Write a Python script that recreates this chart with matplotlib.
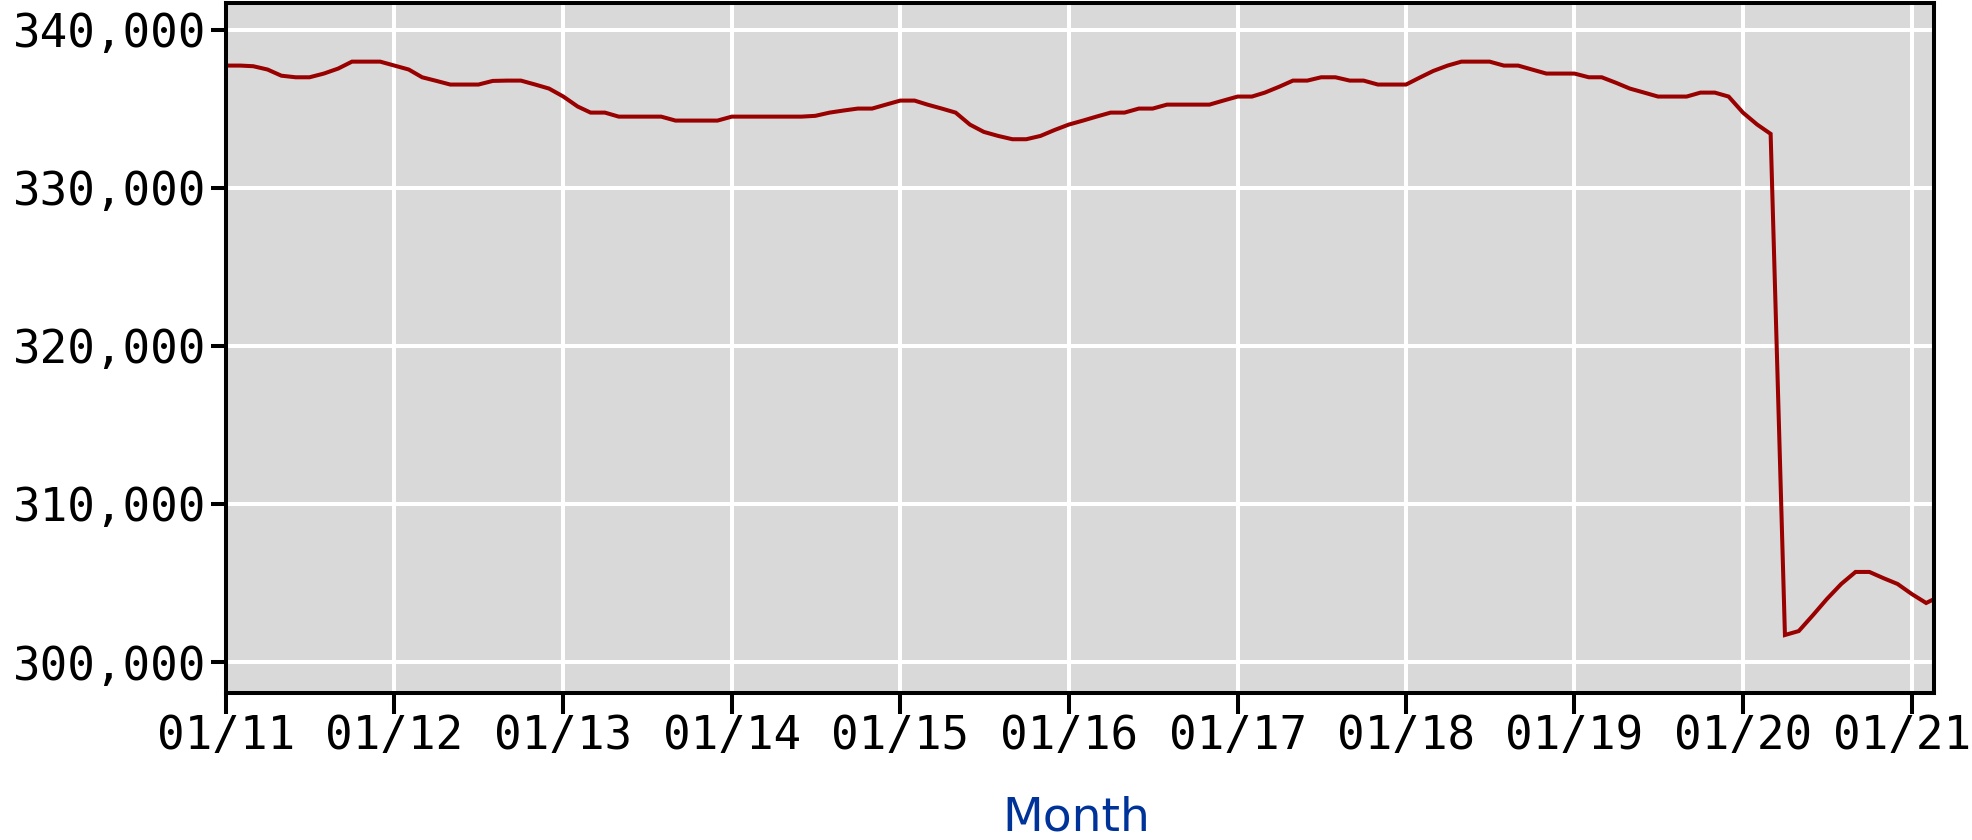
import pandas as pd
import matplotlib
matplotlib.use("Agg")
import matplotlib.pyplot as plt
import matplotlib.dates as mdates
import matplotlib.transforms as mtransforms
from matplotlib.ticker import FuncFormatter

# monthly values, Jan 2011 .. Mar 2021 (last one is clipped by the axis)
months = pd.date_range("2011-01-01", periods=123, freq="MS")
values = [
    337740, 337740, 337700, 337490, 337100, 337000, 337000, 337235, 337550, 337990, 337990, 337990,
    337740, 337490, 337000, 336770, 336540, 336540, 336540, 336770, 336790, 336790, 336540, 336285,
    335780, 335150, 334765, 334765, 334510, 334510, 334510, 334510, 334260, 334260, 334260, 334260,
    334510, 334510, 334510, 334510, 334510, 334510, 334560, 334765, 334900, 335020, 335020, 335270,
    335525, 335525, 335270, 335020, 334765, 334005, 333545, 333290, 333080, 333080, 333290, 333660,
    334005, 334260, 334510, 334765, 334765, 335020, 335020, 335270, 335270, 335270, 335270, 335525,
    335780, 335780, 336030, 336400, 336790, 336790, 337000, 337000, 336790, 336790, 336540, 336540,
    336540, 337000, 337400, 337740, 337990, 337990, 337990, 337740, 337740, 337490, 337235, 337235,
    337235, 337000, 337000, 336650, 336285, 336030, 335780, 335780, 335780, 336030, 336030, 335780,
    334765, 334005, 333420, 301710, 301960, 302975, 303990, 304940, 305700, 305700, 305300, 304940,
    304300, 303735, 304140,
]
ytick_values = [300000, 310000, 320000, 330000, 340000]
xtick_dates = pd.date_range("2011-01-01", "2021-01-01", freq="YS")

fig = plt.figure(figsize=(19.72, 8.4), dpi=100)
ax = fig.add_axes([226 / 1972, 1 - 693 / 840, (1934 - 226) / 1972, 690 / 840])
ax.set_facecolor("#d9d9d9")

ax.plot(months, values, color="#990000", linewidth=2.9, solid_joinstyle="miter")

ax.set_xlim(pd.Timestamp("2011-01-01"), pd.Timestamp("2021-02-18"))
ax.set_ylim(298040, 341700)

ax.set_yticks(ytick_values)
ax.yaxis.set_major_formatter(FuncFormatter(lambda v, p: f"{int(v):,}"))
ax.set_xticks(xtick_dates)
ax.xaxis.set_major_formatter(mdates.DateFormatter("%m/%y"))

ax.grid(True, color="white", linewidth=2.9)
ax.set_axisbelow(True)

for s in ax.spines.values():
    s.set_linewidth(2.9)
    s.set_color("black")

ax.tick_params(axis="y", direction="out", length=11, width=2.9, pad=3,
               labelsize=33, labelfontfamily="DejaVu Sans Mono")
ax.tick_params(axis="x", direction="out", length=15, width=2.9, pad=0,
               labelsize=33, labelfontfamily="DejaVu Sans Mono")

# last tick label sits at the figure edge, nudge it in a bit so it isn't cut
last = ax.get_xticklabels()[-1]
last.set_transform(last.get_transform() + mtransforms.ScaledTranslation(-0.1, 0, fig.dpi_scale_trans))

ax.set_xlabel("Month", fontsize=34, color="#003399", va="center")
ax.xaxis.set_label_coords(0.4977, -0.181)

plt.savefig("out.png", dpi=100)
